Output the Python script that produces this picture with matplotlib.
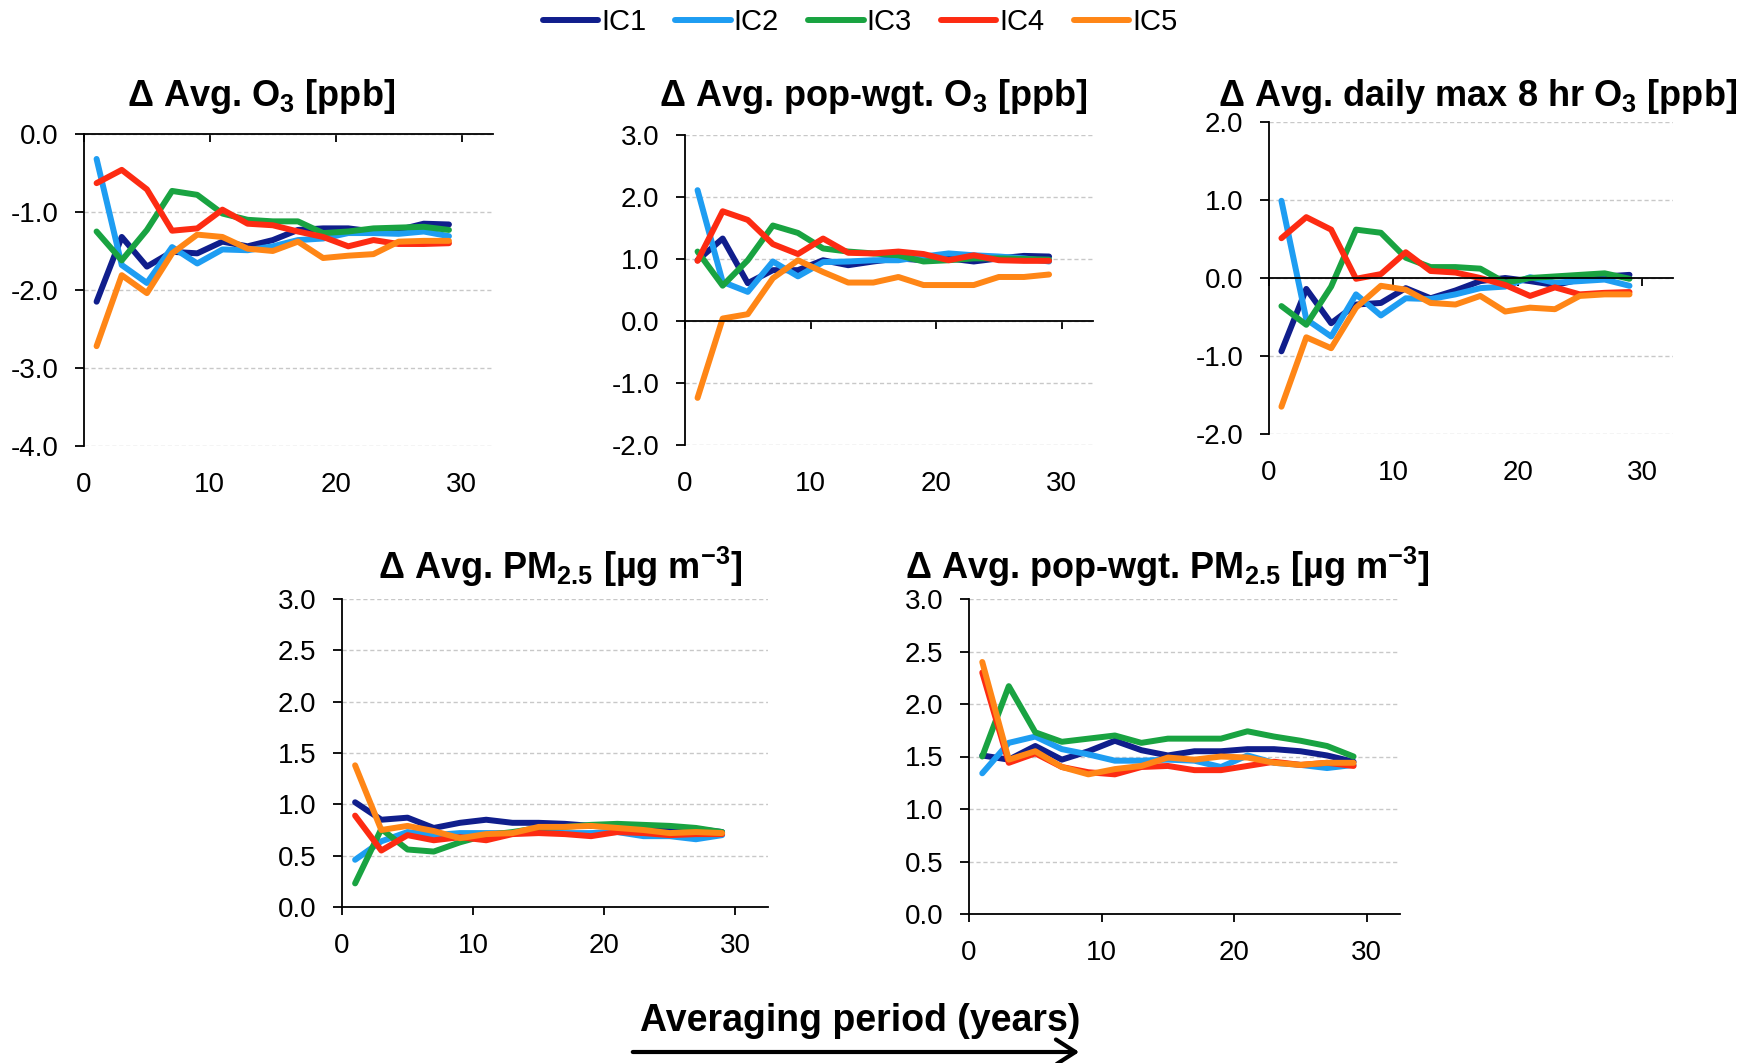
import matplotlib
matplotlib.use('Agg')
import matplotlib.pyplot as plt
from matplotlib.ticker import FormatStrFormatter
from matplotlib.patches import FancyArrowPatch

plt.rcParams['font.family'] = ['Liberation Sans', 'DejaVu Sans']
plt.rcParams['axes.unicode_minus'] = False
plt.rcParams['mathtext.fontset'] = 'custom'
plt.rcParams['mathtext.rm'] = 'Liberation Sans:bold'
plt.rcParams['mathtext.it'] = 'Liberation Sans:bold'
plt.rcParams['mathtext.bf'] = 'Liberation Sans:bold'

# Data
years = [1, 3, 5, 7, 9, 11, 13, 15, 17, 19, 21, 23, 25, 27, 29]
ic_names = ['IC1', 'IC2', 'IC3', 'IC4', 'IC5']
ic_colors = ['#101e8c', '#1e9df2', '#19a341', '#fd2b12', '#ff8616']

o3_avg = [
    [-2.15, -1.32, -1.70, -1.51, -1.53, -1.38, -1.44, -1.36, -1.23, -1.21, -1.21, -1.25, -1.23, -1.15, -1.16],
    [-0.32, -1.68, -1.91, -1.45, -1.66, -1.48, -1.49, -1.44, -1.36, -1.34, -1.27, -1.27, -1.28, -1.25, -1.31],
    [-1.25, -1.62, -1.23, -0.73, -0.78, -1.02, -1.10, -1.12, -1.12, -1.27, -1.25, -1.21, -1.20, -1.19, -1.23],
    [-0.63, -0.46, -0.71, -1.24, -1.21, -0.97, -1.15, -1.17, -1.25, -1.32, -1.44, -1.36, -1.41, -1.41, -1.40],
    [-2.72, -1.81, -2.04, -1.53, -1.29, -1.32, -1.47, -1.50, -1.38, -1.59, -1.56, -1.54, -1.38, -1.37, -1.37],
]
o3_popwgt = [
    [0.98, 1.33, 0.61, 0.82, 0.82, 0.98, 0.90, 0.96, 1.01, 0.98, 1.01, 0.96, 1.01, 1.05, 1.04],
    [2.11, 0.63, 0.47, 0.96, 0.72, 0.95, 0.96, 0.98, 0.98, 1.04, 1.09, 1.06, 1.04, 1.01, 0.96],
    [1.12, 0.57, 0.98, 1.54, 1.42, 1.17, 1.12, 1.09, 1.06, 0.96, 0.98, 1.01, 1.01, 1.00, 0.99],
    [0.97, 1.77, 1.63, 1.24, 1.08, 1.33, 1.10, 1.09, 1.12, 1.08, 0.98, 1.06, 0.98, 0.97, 0.97],
    [-1.24, 0.04, 0.11, 0.69, 0.98, 0.79, 0.62, 0.62, 0.71, 0.58, 0.58, 0.58, 0.71, 0.71, 0.75],
]
o3_mda8 = [
    [-0.94, -0.14, -0.58, -0.34, -0.32, -0.13, -0.26, -0.16, -0.04, 0.00, -0.04, -0.09, -0.02, 0.02, 0.04],
    [0.99, -0.53, -0.75, -0.21, -0.48, -0.26, -0.27, -0.21, -0.13, -0.11, 0.01, -0.06, -0.04, -0.02, -0.10],
    [-0.36, -0.60, -0.11, 0.62, 0.58, 0.26, 0.14, 0.14, 0.12, -0.06, 0.00, 0.02, 0.04, 0.06, -0.01],
    [0.51, 0.78, 0.62, -0.01, 0.05, 0.33, 0.09, 0.07, 0.00, -0.09, -0.23, -0.12, -0.21, -0.19, -0.18],
    [-1.65, -0.76, -0.90, -0.38, -0.10, -0.15, -0.32, -0.34, -0.23, -0.43, -0.38, -0.40, -0.23, -0.21, -0.21],
]
pm_avg = [
    [1.02, 0.85, 0.87, 0.77, 0.82, 0.85, 0.82, 0.82, 0.81, 0.79, 0.78, 0.79, 0.77, 0.76, 0.73],
    [0.46, 0.64, 0.73, 0.70, 0.72, 0.72, 0.72, 0.73, 0.72, 0.72, 0.73, 0.69, 0.69, 0.66, 0.70],
    [0.23, 0.76, 0.56, 0.54, 0.63, 0.70, 0.73, 0.77, 0.78, 0.80, 0.81, 0.80, 0.79, 0.77, 0.73],
    [0.89, 0.55, 0.70, 0.65, 0.68, 0.65, 0.71, 0.72, 0.71, 0.69, 0.73, 0.72, 0.70, 0.71, 0.71],
    [1.38, 0.75, 0.79, 0.74, 0.67, 0.71, 0.72, 0.78, 0.78, 0.79, 0.77, 0.75, 0.72, 0.73, 0.72],
]
pm_popwgt = [
    [1.51, 1.47, 1.60, 1.47, 1.55, 1.65, 1.56, 1.51, 1.55, 1.55, 1.57, 1.57, 1.55, 1.51, 1.45],
    [1.34, 1.63, 1.69, 1.57, 1.52, 1.46, 1.46, 1.47, 1.46, 1.40, 1.51, 1.44, 1.42, 1.39, 1.42],
    [1.50, 2.17, 1.73, 1.64, 1.67, 1.70, 1.63, 1.67, 1.67, 1.67, 1.74, 1.69, 1.65, 1.60, 1.50],
    [2.30, 1.44, 1.53, 1.40, 1.35, 1.33, 1.40, 1.41, 1.37, 1.37, 1.41, 1.45, 1.42, 1.44, 1.41],
    [2.40, 1.47, 1.55, 1.40, 1.33, 1.38, 1.41, 1.49, 1.47, 1.50, 1.49, 1.44, 1.42, 1.44, 1.44],
]

titles = [
    'Δ Avg. O$_3$ [ppb]',
    'Δ Avg. pop-wgt. O$_3$ [ppb]',
    'Δ Avg. daily max 8 hr O$_3$ [ppb]',
    'Δ Avg. PM$_{2.5}$ [µg m$^{-3}$]',
    'Δ Avg. pop-wgt. PM$_{2.5}$ [µg m$^{-3}$]',
]
panel_data = [o3_avg, o3_popwgt, o3_mda8, pm_avg, pm_popwgt]
y_ticks = [
    [-4.0, -3.0, -2.0, -1.0, 0.0],
    [-2.0, -1.0, 0.0, 1.0, 2.0, 3.0],
    [-2.0, -1.0, 0.0, 1.0, 2.0],
    [0.0, 0.5, 1.0, 1.5, 2.0, 2.5, 3.0],
    [0.0, 0.5, 1.0, 1.5, 2.0, 2.5, 3.0],
]
x_ticks = [0, 10, 20, 30]

W, H = 1760, 1063
fig = plt.figure(figsize=(W / 100, H / 100), dpi=100)

# axes boxes in pixels: left, right, top, bottom
boxes = [(84, 493, 134, 446), (685, 1093, 135, 445), (1269, 1673, 122, 434),
         (342, 768, 599, 907), (969, 1400, 599, 914)]
# title centre x and baseline y in pixels
title_pos = [(261, 106), (873, 106), (1478, 106), (560, 579), (1167, 579)]

axes = []
for i, data in enumerate(panel_data):
    l, r, t, b = boxes[i]
    ax = fig.add_axes([l / W, 1 - b / H, (r - l) / W, (b - t) / H])
    axes.append(ax)
    for vals, c in zip(data, ic_colors):
        ax.plot(years, vals, color=c, lw=4.3, solid_capstyle='round')
    ax.set_xlim(0, 32.5)
    ax.set_ylim(y_ticks[i][0], y_ticks[i][-1])
    ax.set_yticks(y_ticks[i])
    ax.yaxis.set_major_formatter(FormatStrFormatter('%.1f'))
    ax.set_xticks(x_ticks)
    ax.grid(axis='y', ls=(0, (3, 2)), color='#c8c8c8', lw=1)
    ax.set_axisbelow(True)
    ax.spines['top'].set_visible(False)
    ax.spines['right'].set_visible(False)
    ax.spines['bottom'].set_position(('data', 0))
    for s in ('left', 'bottom'):
        ax.spines[s].set_linewidth(1.3)
    ax.tick_params(axis='y', direction='out', length=6.5, width=1.3, pad=12, labelsize=20)
    ax.tick_params(axis='x', direction='out', length=6, width=1.3, labelbottom=False)
    sec = ax.secondary_xaxis('bottom')
    sec.set_xticks(x_ticks)
    sec.tick_params(length=0, labelsize=20, pad=19)
    for s in sec.spines.values():
        s.set_visible(False)
    tx, ty = title_pos[i]
    fig.text(tx / W, 1 - ty / H, titles[i], ha='center', va='baseline',
             fontsize=26, fontweight='bold')

fig.legend(axes[0].get_lines(), ic_names, loc='center', bbox_to_anchor=(860 / W, 1 - 22 / H),
           ncol=5, frameon=False, fontsize=21, handlelength=1.9, handletextpad=0.1,
           columnspacing=1.0)

fig.text(860 / W, 1 - 1031 / H, 'Averaging period (years)', ha='center', va='baseline',
         fontsize=27, fontweight='bold')
arrow = FancyArrowPatch((630 / W, 1 - 1052 / H), (1082 / W, 1 - 1052 / H),
                        transform=fig.transFigure, arrowstyle='->,head_length=0.7,head_width=0.45',
                        mutation_scale=20, lw=3, color='black')
fig.add_artist(arrow)

fig.savefig('out.png', dpi=100)
